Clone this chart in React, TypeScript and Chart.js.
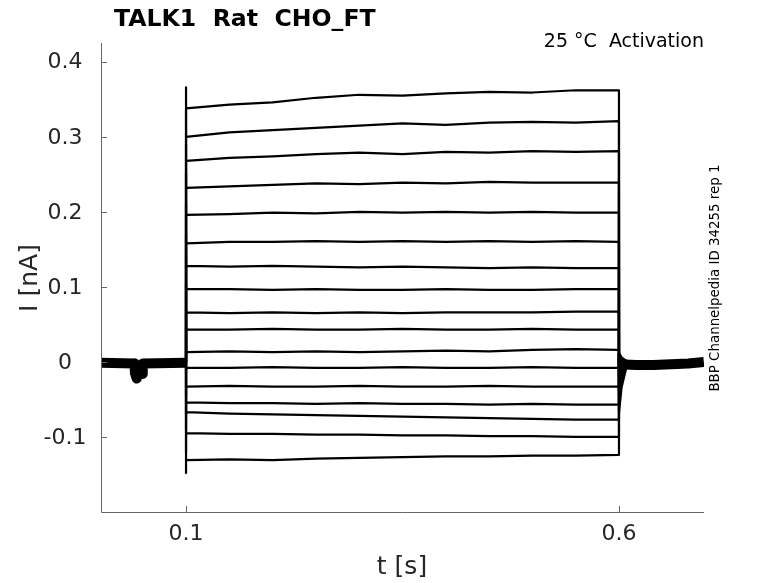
import { useEffect, useRef } from 'react';
import { Chart, ChartConfiguration, Plugin, registerables } from 'chart.js';

Chart.register(...registerables);

// step knots (s) and current levels (nA) of each sweep
const knotTimes = [0.1, 0.15, 0.2, 0.25, 0.3, 0.35, 0.4, 0.45, 0.5, 0.55, 0.6];
const sweepLevels = [
  [0.338, 0.343, 0.346, 0.352, 0.356, 0.355, 0.358, 0.36, 0.359, 0.362, 0.362],
  [0.3, 0.306, 0.309, 0.312, 0.315, 0.318, 0.316, 0.319, 0.32, 0.319, 0.321],
  [0.268, 0.272, 0.274, 0.277, 0.279, 0.277, 0.28, 0.279, 0.281, 0.28, 0.281],
  [0.232, 0.234, 0.236, 0.238, 0.237, 0.239, 0.238, 0.24, 0.239, 0.239, 0.239],
  [0.196, 0.197, 0.199, 0.198, 0.2, 0.199, 0.2, 0.199, 0.2, 0.199, 0.199],
  [0.158, 0.16, 0.16, 0.161, 0.16, 0.161, 0.16, 0.161, 0.16, 0.161, 0.16],
  [0.128, 0.127, 0.128, 0.127, 0.126, 0.127, 0.126, 0.125, 0.126, 0.125, 0.125],
  [0.097, 0.097, 0.096, 0.097, 0.096, 0.096, 0.097, 0.096, 0.096, 0.097, 0.097],
  [0.066, 0.065, 0.066, 0.065, 0.066, 0.065, 0.066, 0.066, 0.066, 0.067, 0.067],
  [0.043, 0.043, 0.044, 0.043, 0.043, 0.044, 0.043, 0.043, 0.044, 0.043, 0.043],
  [0.013, 0.014, 0.013, 0.014, 0.013, 0.014, 0.015, 0.014, 0.016, 0.017, 0.016],
  [-0.008, -0.008, -0.007, -0.008, -0.008, -0.007, -0.008, -0.008, -0.007, -0.008, -0.008],
  [-0.033, -0.032, -0.033, -0.033, -0.032, -0.033, -0.033, -0.032, -0.033, -0.033, -0.033],
  [-0.054, -0.055, -0.055, -0.056, -0.055, -0.056, -0.056, -0.057, -0.056, -0.057, -0.057],
  [-0.067, -0.069, -0.07, -0.071, -0.072, -0.073, -0.074, -0.075, -0.076, -0.077, -0.077],
  [-0.095, -0.096, -0.096, -0.097, -0.097, -0.098, -0.098, -0.099, -0.099, -0.1, -0.1],
  [-0.131, -0.13, -0.131, -0.129, -0.128, -0.127, -0.126, -0.126, -0.125, -0.125, -0.124],
];
// capacitive peaks at step onset and tails at step offset (nA)
const onsetPeaks = [0.366, 0.335, 0.29, 0.25, 0.21, 0.17, 0.14, 0.105, 0.07, 0.045, 0.015, -0.015, -0.045, -0.07, -0.09, -0.12, -0.148];
const offsetTails = [-0.068, -0.055, -0.045, -0.035, -0.028, -0.02, -0.012, -0.008, -0.004, -0.004, -0.004, 0, 0.004, 0.006, 0.008, 0.01, 0.012];

// holding current before and after the step (all sweeps overlap here)
const preTimes = [0.0018, 0.0405, 0.041, 0.043, 0.0435, 0.0495, 0.05, 0.1];
const preCurrent = [-0.001, -0.002, -0.015, -0.022, -0.016, -0.016, -0.002, -0.001];
const postTimes = [0.6, 0.62, 0.64, 0.66, 0.68, 0.698];
const postCurrent = [-0.003, -0.004, -0.004, -0.003, -0.002, 0];

const yTicks = [-0.1, 0, 0.1, 0.2, 0.3, 0.4];
const xTicks = [0.1, 0.6];

const FONT = '"DejaVu Sans", sans-serif';

const decorations: Plugin = {
  id: 'decorations',
  afterDraw(chart) {
    const { ctx, chartArea } = chart;
    const xs = chart.scales.x;
    const ys = chart.scales.y;
    ctx.save();
    // axes, MATLAB style (box off, ticks inward)
    ctx.strokeStyle = '#666';
    ctx.lineWidth = 1;
    ctx.beginPath();
    ctx.moveTo(chartArea.left + 0.5, chartArea.top);
    ctx.lineTo(chartArea.left + 0.5, chartArea.bottom + 0.5);
    ctx.lineTo(chartArea.right, chartArea.bottom + 0.5);
    yTicks.forEach((v) => {
      const y = Math.round(ys.getPixelForValue(v)) + 0.5;
      ctx.moveTo(chartArea.left, y);
      ctx.lineTo(chartArea.left + 6, y);
    });
    xTicks.forEach((v) => {
      const x = Math.round(xs.getPixelForValue(v)) + 0.5;
      ctx.moveTo(x, chartArea.bottom);
      ctx.lineTo(x, chartArea.bottom - 6);
    });
    ctx.stroke();

    ctx.fillStyle = '#262626';
    ctx.font = `22px ${FONT}`;
    ctx.textAlign = 'center';
    ctx.textBaseline = 'middle';
    yTicks.forEach((v) => {
      ctx.fillText(String(Math.round(v * 10) / 10), 65, ys.getPixelForValue(v) + 1);
    });
    xTicks.forEach((v) => {
      ctx.fillText(String(v), xs.getPixelForValue(v), 534);
    });

    ctx.font = `25px ${FONT}`;
    ctx.fillText('t [s]', 402, 567);
    ctx.save();
    ctx.translate(30, 278);
    ctx.rotate(-Math.PI / 2);
    ctx.fillText('I [nA]', 0, 0);
    ctx.restore();

    ctx.fillStyle = '#000';
    ctx.font = `bold 23.6px ${FONT}`;
    ctx.textAlign = 'left';
    ctx.textBaseline = 'alphabetic';
    ctx.fillText('TALK1  Rat  CHO_FT', 114, 26);

    ctx.font = `19px ${FONT}`;
    ctx.textAlign = 'right';
    ctx.fillText('25 °C  Activation', 704, 47);

    ctx.save();
    ctx.translate(716, 278);
    ctx.rotate(-Math.PI / 2);
    ctx.font = `13.4px ${FONT}`;
    ctx.textAlign = 'center';
    ctx.textBaseline = 'middle';
    ctx.fillText('BBP Channelpedia ID 34255 rep 1', 0, 0);
    ctx.restore();
    ctx.restore();
  },
};

export default function App() {
  const canvasRef = useRef<HTMLCanvasElement>(null);
  const chartRef = useRef<Chart | null>(null);

  useEffect(() => {
    if (!canvasRef.current) return;
    if (chartRef.current) chartRef.current.destroy();

    const sweeps = sweepLevels.map((levels, i) => {
      const pts = [
        { x: 0.1, y: 0 },
        { x: 0.1, y: onsetPeaks[i] },
        ...levels.map((y, k) => ({ x: knotTimes[k], y })),
        { x: 0.6, y: offsetTails[i] },
        { x: 0.603, y: offsetTails[i] / 2 },
        { x: 0.61, y: 0 },
      ];
      return {
        data: pts,
        borderColor: '#000',
        borderWidth: 2.2,
        borderJoinStyle: 'round' as const,
        pointRadius: 0,
        tension: 0,
      };
    });

    const holdStyle = { borderColor: '#000', borderWidth: 10, pointRadius: 0, tension: 0, borderJoinStyle: 'round' as const };

    const config: ChartConfiguration<'line', { x: number; y: number }[]> = {
      type: 'line',
      data: {
        datasets: [
          { data: preTimes.map((x, k) => ({ x, y: preCurrent[k] })), ...holdStyle },
          { data: postTimes.map((x, k) => ({ x, y: postCurrent[k] })), ...holdStyle },
          ...sweeps,
        ],
      },
      options: {
        animation: false,
        responsive: false,
        parsing: false,
        layout: { padding: { left: 101, top: 43, right: 74, bottom: 71 } },
        scales: {
          x: { type: 'linear', min: 0.0018, max: 0.6982, display: false },
          y: { type: 'linear', min: -0.2, max: 0.425, display: false },
        },
        plugins: {
          legend: { display: false },
          tooltip: { enabled: false },
        },
      },
      plugins: [decorations],
    };

    chartRef.current = new Chart(canvasRef.current, config);
    return () => {
      if (chartRef.current) {
        chartRef.current.destroy();
        chartRef.current = null;
      }
    };
  }, []);

  return (
    <div style={{ position: 'fixed', left: 0, top: 0, width: 778, height: 583, background: '#fff' }}>
      <canvas ref={canvasRef} width={778} height={583} style={{ width: 778, height: 583 }} />
    </div>
  );
}
